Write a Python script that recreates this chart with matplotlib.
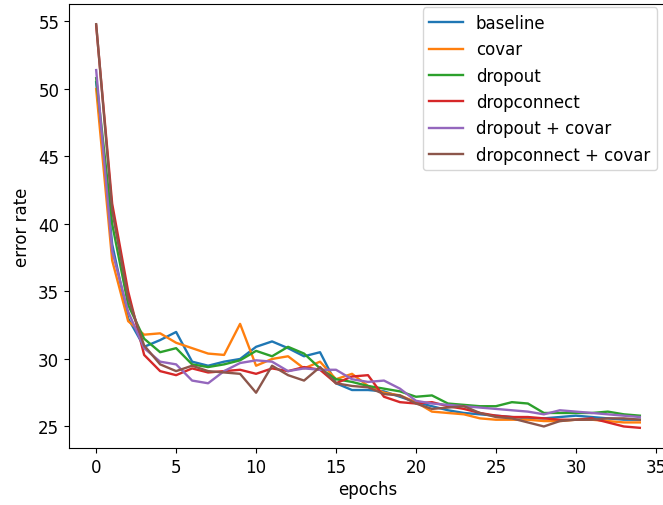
import matplotlib
matplotlib.use("Agg")
import matplotlib.pyplot as plt
import numpy as np

epochs = list(range(35))

baseline = [50.5, 38.5, 33.0, 30.9, 31.4, 32.0, 29.8, 29.5, 29.8, 30.0,
            30.9, 31.3, 30.8, 30.2, 30.5, 28.2, 27.7, 27.7, 27.6, 27.2,
            26.8, 26.5, 26.2, 26.0, 25.9, 25.8, 25.7, 25.6, 25.6, 25.7,
            25.8, 25.7, 25.6, 25.5, 25.5]
covar = [50.0, 37.3, 32.8, 31.8, 31.9, 31.2, 30.8, 30.4, 30.3, 32.6,
         29.5, 30.0, 30.2, 29.3, 29.8, 28.5, 28.9, 28.0, 27.5, 27.3,
         26.8, 26.1, 26.0, 25.9, 25.6, 25.5, 25.5, 25.5, 25.4, 25.4,
         25.5, 25.5, 25.4, 25.3, 25.3]
dropout = [50.8, 40.0, 34.0, 31.5, 30.5, 30.8, 29.6, 29.4, 29.6, 29.9,
           30.6, 30.2, 30.9, 30.4, 29.3, 28.5, 28.3, 28.0, 27.8, 27.6,
           27.2, 27.3, 26.7, 26.6, 26.5, 26.5, 26.8, 26.7, 26.0, 26.0,
           26.0, 26.0, 26.1, 25.9, 25.8]
dropconnect = [54.7, 41.5, 35.0, 30.3, 29.1, 28.8, 29.3, 29.0, 29.1, 29.2,
               28.9, 29.3, 29.1, 29.4, 29.2, 28.2, 28.7, 28.8, 27.2, 26.8,
               26.7, 26.8, 26.5, 26.3, 26.0, 25.8, 25.7, 25.7, 25.6, 25.5,
               25.5, 25.6, 25.3, 25.0, 24.9]
dropout_covar = [51.4, 38.0, 33.5, 30.8, 29.8, 29.6, 28.4, 28.2, 29.1, 29.7,
                 29.9, 29.8, 29.1, 29.3, 29.2, 29.2, 28.5, 28.3, 28.4, 27.8,
                 26.9, 26.7, 26.6, 26.5, 26.4, 26.3, 26.2, 26.1, 25.9, 26.2,
                 26.1, 26.0, 25.9, 25.8, 25.7]
dropconnect_covar = [54.8, 41.0, 34.5, 31.0, 29.6, 29.1, 29.5, 29.1, 29.0, 28.9,
                     27.5, 29.5, 28.8, 28.4, 29.4, 28.2, 28.0, 27.9, 27.4, 27.3,
                     26.7, 26.3, 26.4, 26.5, 26.0, 25.7, 25.6, 25.3, 25.0, 25.4,
                     25.5, 25.5, 25.6, 25.6, 25.5]

labels = ["baseline", "covar", "dropout", "dropconnect",
          "dropout + covar", "dropconnect + covar"]
series = [baseline, covar, dropout, dropconnect, dropout_covar, dropconnect_covar]

plt.rcParams["font.size"] = 12
fig = plt.figure(figsize=(6.63, 5.06), dpi=100)
W, H = 663, 506
ax = fig.add_axes([69 / W, 1 - 449 / H, 598 / W, 444 / H])
for s, lab in zip(series, labels):
    ax.plot(epochs, s, label=lab, linewidth=1.7)
ax.set_xlabel("epochs", labelpad=3)
ax.set_ylabel("error rate", labelpad=5)
ax.set_xticks([0, 5, 10, 15, 20, 25, 30, 35])
ax.set_yticks([25, 30, 35, 40, 45, 50, 55])
ax.legend(loc="upper right", bbox_to_anchor=(0.997, 1.011))
fig.savefig("out.png", dpi=100)
